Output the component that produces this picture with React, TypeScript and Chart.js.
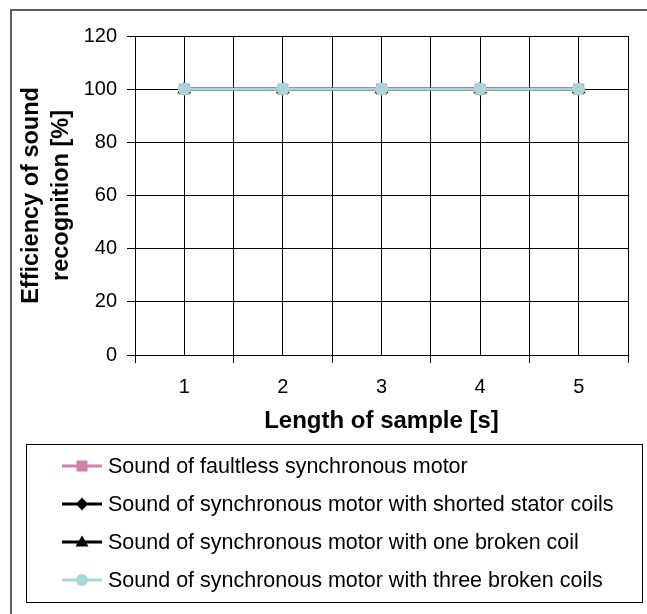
import React, { useEffect, useRef } from "react";
import { Chart, registerables } from "chart.js";

Chart.register(...registerables);

// ---- data ----
const categories = [1, 2, 3, 4, 5];
const faultless = [100, 100, 100, 100, 100];
const shortedStator = [100, 100, 100, 100, 100];
const oneBroken = [100, 100, 100, 100, 100];
const threeBroken = [100, 100, 100, 100, 100];
const seriesLabels = [
  "Sound of faultless synchronous motor",
  "Sound of synchronous motor with shorted stator coils",
  "Sound of synchronous motor with one broken coil",
  "Sound of synchronous motor with three broken coils",
];
const yMin = 0;
const yMax = 120;
const yStep = 20;
const xTitle = "Length of sample [s]";
const yTitle = ["Efficiency of sound", "recognition [%]"];

const FONT = "'Liberation Sans', Arial, sans-serif";
const PINK = "#CC80AC";
const BLUE = "#A9D6D6";

const toPoints = (vals: number[]) => categories.map((c, i) => ({ x: c, y: vals[i] }));

const legendPlugin = {
  id: "boxLegend",
  afterDraw(chart: any) {
    const ctx = chart.ctx as CanvasRenderingContext2D;
    ctx.save();
    // outer frame (top + left visible)
    ctx.strokeStyle = "#5c5c5c";
    ctx.lineWidth = 2;
    ctx.beginPath();
    ctx.moveTo(11, 700);
    ctx.lineTo(11, 10);
    ctx.lineTo(700, 10);
    ctx.stroke();
    // legend box
    ctx.strokeStyle = "#000";
    ctx.lineWidth = 1;
    ctx.strokeRect(26.5, 444.5, 616, 158);
    chart.data.datasets.forEach((ds: any, i: number) => {
      const y = 466 + i * 38;
      const cx = 82;
      ctx.strokeStyle = ds.borderColor;
      ctx.lineWidth = 3;
      ctx.beginPath();
      ctx.moveTo(62, y);
      ctx.lineTo(102, y);
      ctx.stroke();
      ctx.fillStyle = ds.backgroundColor;
      ctx.beginPath();
      if (ds.pointStyle === "rect") {
        ctx.rect(cx - 5.5, y - 5.5, 11, 11);
      } else if (ds.pointStyle === "rectRot") {
        ctx.moveTo(cx, y - 6.5);
        ctx.lineTo(cx + 6, y);
        ctx.lineTo(cx, y + 6.5);
        ctx.lineTo(cx - 6, y);
        ctx.closePath();
      } else if (ds.pointStyle === "triangle") {
        ctx.moveTo(cx, y - 6.5);
        ctx.lineTo(cx + 6.5, y + 4.5);
        ctx.lineTo(cx - 6.5, y + 4.5);
        ctx.closePath();
      } else {
        ctx.arc(cx, y, 6, 0, Math.PI * 2);
      }
      ctx.fill();
      ctx.fillStyle = "#000";
      ctx.font = `21.5px ${FONT}`;
      ctx.textBaseline = "middle";
      ctx.textAlign = "left";
      ctx.fillText(ds.label, 108, y + 1);
    });
    ctx.restore();
  },
};

export default function App() {
  const ref = useRef<HTMLCanvasElement | null>(null);
  useEffect(() => {
    if (!ref.current) return;
    Chart.defaults.font.family = FONT;
    const chart = new Chart(ref.current, {
      type: "line",
      data: {
        datasets: [
          {
            label: seriesLabels[0],
            data: toPoints(faultless),
            borderColor: PINK,
            backgroundColor: PINK,
            pointStyle: "rect",
            pointRadius: 7.8,
            pointBorderWidth: 0,
            borderWidth: 3,
            order: 3,
          },
          {
            label: seriesLabels[1],
            data: toPoints(shortedStator),
            borderColor: "#000",
            backgroundColor: "#000",
            pointStyle: "rectRot",
            pointRadius: 6.5,
            pointBorderWidth: 0,
            borderWidth: 3,
            order: 2,
          },
          {
            label: seriesLabels[2],
            data: toPoints(oneBroken),
            borderColor: "#000",
            backgroundColor: "#000",
            pointStyle: "triangle",
            pointRadius: 8,
            pointBorderWidth: 0,
            borderWidth: 3,
            order: 1,
          },
          {
            label: seriesLabels[3],
            data: toPoints(threeBroken),
            borderColor: BLUE,
            backgroundColor: BLUE,
            pointStyle: "circle",
            pointRadius: 6.3,
            pointBorderWidth: 0,
            borderWidth: 3,
            order: 0,
          },
        ],
      },
      options: {
        responsive: false,
        animation: false,
        events: [],
        layout: { padding: { left: 0, top: 36, right: 19, bottom: 174 } },
        plugins: { legend: { display: false }, tooltip: { enabled: false } },
        scales: {
          x: {
            type: "linear",
            min: categories[0] - 0.5,
            max: categories[categories.length - 1] + 0.5,
            afterBuildTicks: (scale: any) => {
              const t: any[] = [];
              for (let v = scale.min; v <= scale.max + 1e-9; v += 0.5) t.push({ value: v });
              scale.ticks = t;
            },
            afterFit: (scale: any) => {
              scale.height = 85;
            },
            ticks: {
              autoSkip: false,
              maxRotation: 0,
              padding: 12,
              color: "#000",
              font: { size: 20 },
              callback: (v: any) => (Number.isInteger(v) && categories.includes(v) ? String(v) : ""),
            },
            grid: {
              color: "#000",
              lineWidth: 1,
              tickLength: 8,
              tickColor: (ctx: any) =>
                ctx.tick && Number.isInteger(ctx.tick.value) ? "rgba(0,0,0,0)" : "#000",
            },
            border: { color: "#000", width: 1 },
            title: {
              display: true,
              text: xTitle,
              color: "#000",
              font: { size: 24, weight: "bold", lineHeight: 1 },
              padding: { top: 0, bottom: 7 },
            },
          },
          y: {
            min: yMin,
            max: yMax,
            afterFit: (scale: any) => {
              scale.width = 135;
            },
            ticks: { stepSize: yStep, padding: 10, color: "#000", font: { size: 20 } },
            grid: { color: "#000", lineWidth: 1, tickLength: 8 },
            border: { color: "#000", width: 1 },
            title: {
              display: true,
              text: yTitle,
              color: "#000",
              font: { size: 23.5, weight: "bold", lineHeight: 1.3 },
              padding: { top: 16, bottom: 0 },
            },
          },
        },
      },
      plugins: [legendPlugin],
    } as any);
    return () => chart.destroy();
  }, []);
  return (
    <div style={{ position: "fixed", left: 0, top: 0, width: 647, height: 614, background: "#fff" }}>
      <canvas ref={ref} width={647} height={614} />
    </div>
  );
}
